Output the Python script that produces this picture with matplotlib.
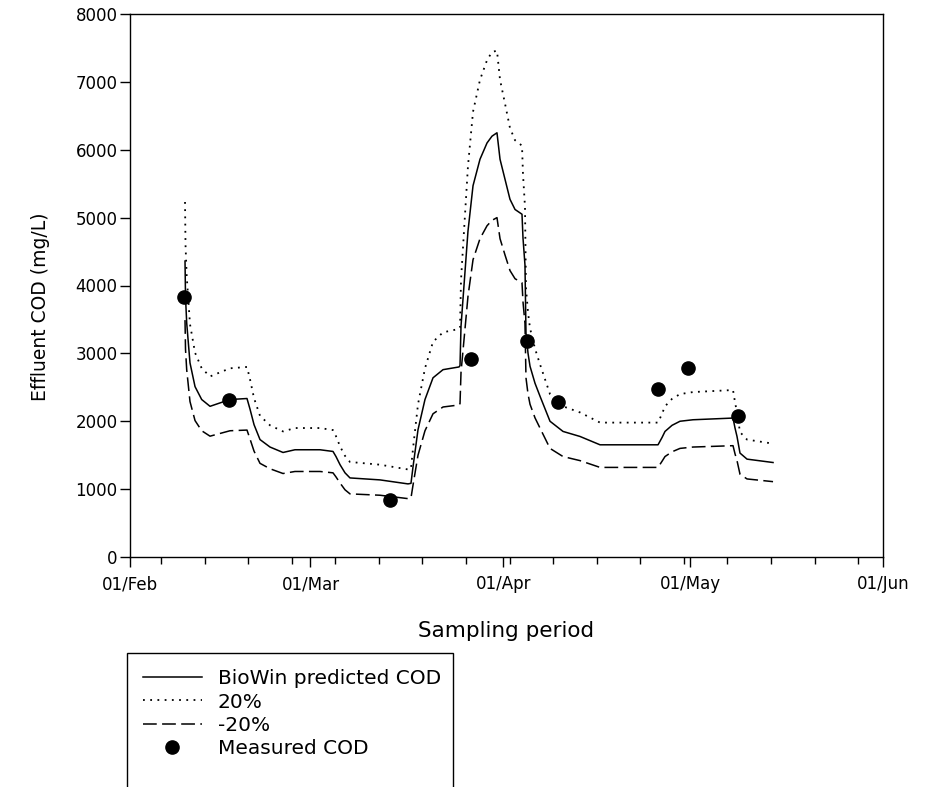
import numpy as np
import pandas as pd
import matplotlib
matplotlib.use("Agg")
import matplotlib.pyplot as plt
import matplotlib.dates as mdates
from matplotlib.patches import Rectangle

plt.rcParams['font.family'] = ['DejaVu Sans']

start = pd.Timestamp('2008-02-01')

# simulated effluent COD (days after 1 Feb)
sim_days = [8.84, 8.92, 9.11, 9.64, 10.45, 11.52, 12.86, 14.46, 16.07, 18.80,
            19.28, 19.93, 20.89, 22.50, 24.59, 26.51, 30.53, 32.62, 33.10, 33.75,
            34.55, 35.35, 40.17, 44.67, 45.15, 45.48, 46.28, 47.40, 48.69, 50.30,
            52.87, 53.03, 53.19, 53.67, 54.31, 55.12, 56.24, 57.37, 58.17, 58.97,
            59.46, 60.26, 61.06, 61.87, 62.99, 63.15, 63.47, 63.63, 63.96, 64.28,
            65.08, 65.88, 67.49, 69.58, 72.31, 75.53, 84.85, 85.49, 85.97, 87.10,
            88.38, 90.47, 96.90, 97.22, 97.54, 98.02, 99.15, 103.33]

predicted = [4360, 3830, 3450, 2860, 2510, 2320, 2220, 2270, 2320, 2335,
             2180, 1950, 1730, 1620, 1540, 1580, 1580, 1555, 1480, 1360,
             1240, 1165, 1136, 1077, 1085, 1330, 1875, 2320, 2640, 2760,
             2800, 2820, 3400, 4000, 4800, 5470, 5860, 6100, 6200, 6250,
             5860, 5565, 5270, 5120, 5050, 4700, 4300, 3300, 3000, 2810,
             2560, 2370, 2000, 1850, 1776, 1653, 1653, 1760, 1850, 1940,
             2000, 2022, 2047, 1900, 1776, 1531, 1442, 1392]

plus20 = [5230, 4600, 4140, 3430, 3010, 2780, 2660, 2720, 2780, 2800,
          2620, 2340, 2080, 1940, 1850, 1900, 1900, 1870, 1780, 1630,
          1490, 1400, 1360, 1290, 1300, 1600, 2250, 2780, 3170, 3310,
          3360, 3380, 4080, 4800, 5760, 6560, 7030, 7320, 7440, 7460,
          7030, 6680, 6320, 6140, 6060, 5640, 5160, 3960, 3600, 3370,
          3070, 2840, 2400, 2220, 2130, 1980, 1980, 2110, 2220, 2330,
          2400, 2430, 2460, 2280, 2130, 1840, 1730, 1670]

minus20 = [3490, 3060, 2760, 2290, 2010, 1860, 1780, 1820, 1860, 1870,
           1740, 1560, 1380, 1300, 1230, 1260, 1260, 1240, 1180, 1090,
           990, 930, 910, 860, 870, 1060, 1500, 1860, 2110, 2210,
           2240, 2260, 2720, 3200, 3840, 4380, 4690, 4880, 4960, 5000,
           4690, 4450, 4220, 4100, 4040, 3760, 3440, 2640, 2400, 2250,
           2050, 1900, 1600, 1480, 1420, 1320, 1320, 1410, 1480, 1550,
           1600, 1620, 1640, 1520, 1420, 1220, 1150, 1110]

# laboratory measurements
meas_days = [8.68, 15.91, 41.78, 54.80, 63.75, 68.83, 84.80, 89.71, 97.75]
measured = [3830, 2320, 840, 2910, 3180, 2280, 2480, 2790, 2080]

t_sim = start + pd.to_timedelta(sim_days, unit='D')
t_meas = start + pd.to_timedelta(meas_days, unit='D')

W, H = 928, 787
fig = plt.figure(figsize=(W / 100, H / 100), dpi=100)
ax = fig.add_axes([130 / W, 1 - 557 / H, (883 - 130) / W, (557 - 14) / H])

ax.plot(t_sim, predicted, color='black', lw=1.1, label='BioWin predicted COD')
ax.plot(t_sim, plus20, color='black', lw=1.3, linestyle=(0, (1, 3)), label='20%')
ax.plot(t_sim, minus20, color='black', lw=1.1, linestyle=(0, (9, 3.5)), label='-20%')
ax.plot(t_meas, measured, linestyle='none', marker='o', markersize=9.5,
        color='black', label='Measured COD')

ax.set_xlim(pd.Timestamp('2008-02-01'), pd.Timestamp('2008-06-01'))
ax.set_ylim(0, 8000)
ax.set_yticks(np.arange(0, 8001, 1000))

ax.xaxis.set_major_locator(mdates.MonthLocator())
ax.xaxis.set_major_formatter(mdates.DateFormatter('%d/%b'))
ax.xaxis.set_minor_locator(mdates.WeekdayLocator(byweekday=mdates.WE))

ax.tick_params(axis='both', which='major', direction='out', length=7, width=1,
               labelsize=12)
ax.tick_params(axis='x', which='major', pad=6)
ax.tick_params(axis='y', which='major', pad=2)
ax.tick_params(axis='x', which='minor', direction='out', length=5, width=1)
for s in ax.spines.values():
    s.set_linewidth(1.0)

ax.set_xlabel('Sampling period', fontsize=15.5, labelpad=20)
ax.set_ylabel('Effluent COD (mg/L)', fontsize=13.5, labelpad=10)
ax.yaxis.set_label_coords(-0.106, 0.46)

# legend box below the plot, running off the bottom edge of the figure
box_left, box_right, box_top = 127, 453, 653
leg = fig.legend(loc='upper left',
                 bbox_to_anchor=(box_left / W, 1 - box_top / H,
                                 (box_right - box_left) / W, 0),
                 mode='expand', fontsize=14.5, frameon=False, borderpad=0.8,
                 handlelength=2.9, handletextpad=0.8, labelspacing=0.22,
                 borderaxespad=0)
fig.add_artist(Rectangle((box_left / W, -0.05), (box_right - box_left) / W,
                         (H - box_top) / H + 0.05, transform=fig.transFigure,
                         fill=False, edgecolor='black', linewidth=1.0))

fig.savefig('out.png', dpi=100)
